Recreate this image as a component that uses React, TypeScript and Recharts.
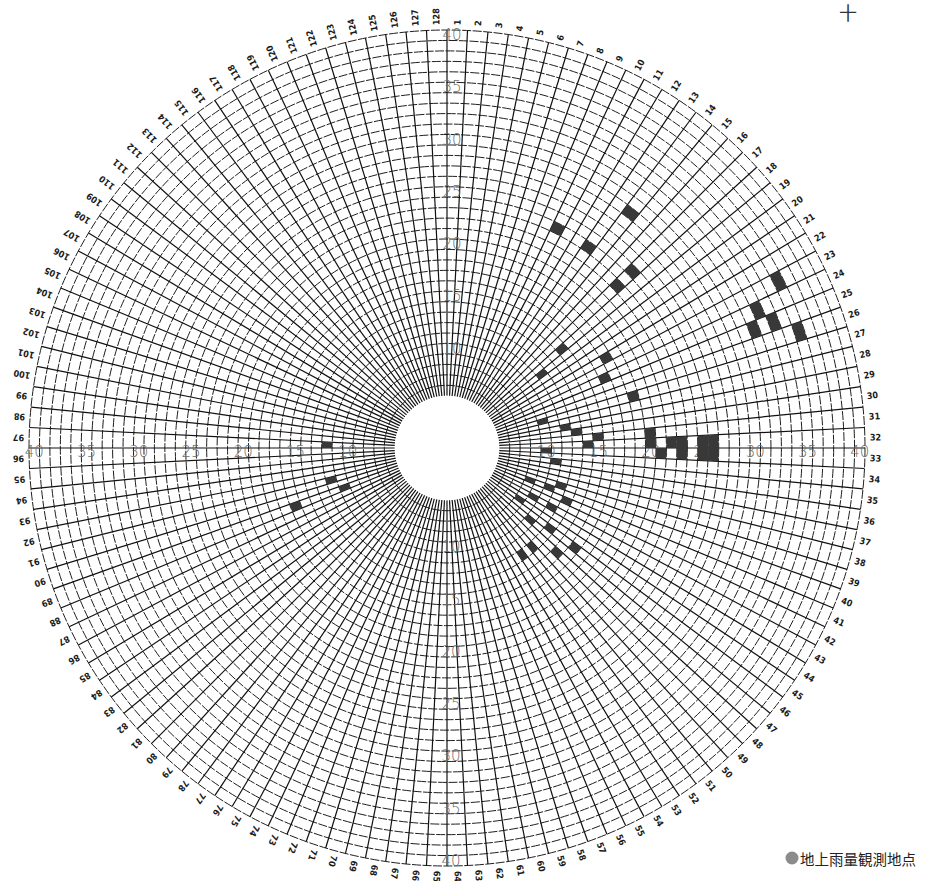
import { PieChart, Pie, Cell, PolarGrid, Customized } from 'recharts';

// Radar scope geometry (pixels)
const CENTER_X = 447;
const CENTER_Y = 448;
const OUTER_R = 418;
const MAX_KM = 40;
const BLIND_KM = 5;

// km -> pixel radius
const km = (d: number) => (d / MAX_KM) * OUTER_R;

// 128 azimuth sectors, numbered clockwise from north
const sectorLabels = Array.from({ length: 128 }, (_, i) => String(i + 1));
const SECTOR_DEG = 360 / sectorLabels.length;

// range rings every 1 km, labelled every 5 km
const ringKm = Array.from({ length: MAX_KM - BLIND_KM }, (_, i) => BLIND_KM + 1 + i);
const rangeTicks = [10, 15, 20, 25, 30, 35, 40];

// echo cells: inner edge of the range bin (km) and sector number
const echoRangeKm = [
  23, 28, 23, 24, 22, 14, 17, 11, 16, 18,
  35, 32, 31, 33, 35,
  19, 19, 20, 21, 22, 22, 24, 25, 24, 25,
  9, 11, 12, 13, 14, 9, 10, 8, 10, 11, 8, 9, 11, 12, 10, 12, 12, 14, 15, 12,
  11, 11, 10, 15,
];
const echoSector = [
  10, 14, 13, 17, 17, 18, 22, 19, 24, 27,
  23, 24, 25, 25, 26,
  31, 32, 33, 32, 32, 33, 32, 32, 33, 33,
  27, 29, 30, 32, 31, 33, 35, 40, 40, 39, 45, 43, 43, 41, 47, 46, 50, 48, 46, 52,
  97, 91, 89, 89,
];

const echoSet = new Set(echoRangeKm.map((r, i) => `${r}-${echoSector[i]}`));
const echoRings = Array.from(new Set(echoRangeKm)).sort((a, b) => a - b);

const spokeAngles = sectorLabels.map((_, i) => 90 - i * SECTOR_DEG);

function SectorLabel(props: any) {
  const { cx, cy, midAngle, outerRadius, index } = props;
  const r = outerRadius + 5;
  const rad = (midAngle * Math.PI) / 180;
  const x = cx + r * Math.cos(rad);
  const y = cy - r * Math.sin(rad);
  return (
    <text
      x={x}
      y={y}
      transform={`rotate(${-midAngle} ${x} ${y})`}
      textAnchor="start"
      dominantBaseline="central"
      fontFamily="DejaVu Sans Condensed, DejaVu Sans, sans-serif"
      fontWeight="bold"
      fontSize={9}
      fill="#1a1a1a"
    >
      {sectorLabels[index]}
    </text>
  );
}

function Annotations() {
  const style = {
    fontFamily: 'DejaVu Sans, sans-serif',
    fontSize: 15,
    fontWeight: 300,
    fill: '#6e6e6e',
  } as const;
  const labels: any[] = [];
  rangeTicks.forEach((k) => {
    const r = km(k - 0.5);
    const t = String(k);
    labels.push(
      <text key={`n${k}`} x={CENTER_X + 5} y={CENTER_Y - r} textAnchor="middle" dominantBaseline="central" {...style}>{t}</text>,
      <text key={`s${k}`} x={CENTER_X + 4} y={CENTER_Y + r} textAnchor="middle" dominantBaseline="central" {...style}>{t}</text>,
      <text key={`w${k}`} x={CENTER_X - r} y={CENTER_Y + 4} textAnchor="middle" dominantBaseline="central" {...style}>{t}</text>,
      <text key={`e${k}`} x={CENTER_X + r} y={CENTER_Y + 4} textAnchor="middle" dominantBaseline="central" {...style}>{t}</text>
    );
  });
  return (
    <g>
      {labels}
      <text x={CENTER_X} y={CENTER_Y - 11} textAnchor="middle" dominantBaseline="central"
        fontFamily="Noto Sans CJK JP" fontSize={10} fill="#222">三ッ峠</text>
      <text x={CENTER_X} y={CENTER_Y + 2} textAnchor="middle" dominantBaseline="central"
        fontFamily="DejaVu Sans" fontSize={11} fill="#222">+</text>
      <text x={848} y={12} textAnchor="middle" dominantBaseline="central"
        fontFamily="Noto Sans CJK JP" fontSize={18} fill="#333">十</text>
      <circle cx={792} cy={858} r={6.5} fill="#8c8c8c" />
      <text x={800} y={858} textAnchor="start" dominantBaseline="central"
        fontFamily="Noto Sans CJK JP" fontSize={14.5} fill="#222">地上雨量観測地点</text>
    </g>
  );
}

export default function App() {
  return (
    <div style={{ position: 'absolute', left: 0, top: 0, width: 928, height: 881, background: '#fff' }}>
      <PieChart
        width={928}
        height={881}
        margin={{ top: 0, right: 0, bottom: 0, left: 0 }}
        cx={CENTER_X}
        cy={CENTER_Y}
        innerRadius={km(BLIND_KM)}
        outerRadius={OUTER_R}
      >
        {/* range rings */}
        <PolarGrid
          cx={CENTER_X}
          cy={CENTER_Y}
          innerRadius={km(BLIND_KM)}
          outerRadius={OUTER_R}
          gridType="circle"
          radialLines={false}
          polarAngles={[]}
          polarRadius={ringKm.map(km)}
          stroke="#1e1e1e"
          strokeWidth={1}
          strokeDasharray="9 1.5"
        />
        {/* azimuth spokes */}
        <PolarGrid
          cx={CENTER_X}
          cy={CENTER_Y}
          innerRadius={km(BLIND_KM)}
          outerRadius={OUTER_R}
          gridType="circle"
          polarAngles={spokeAngles}
          polarRadius={[]}
          stroke="#111"
          strokeWidth={1.2}
        />
        {echoRings.map((k) => (
          <Pie
            key={`ring-${k}`}
            data={sectorLabels.map((name, i) => ({ name, value: 1, filled: echoSet.has(`${k}-${i + 1}`) }))}
            dataKey="value"
            cx={CENTER_X}
            cy={CENTER_Y}
            innerRadius={km(k)}
            outerRadius={km(k + 1)}
            startAngle={90}
            endAngle={-270}
            stroke="none"
            isAnimationActive={false}
          >
            {sectorLabels.map((name, i) => (
              <Cell key={name} fill={echoSet.has(`${k}-${i + 1}`) ? '#383838' : 'none'} />
            ))}
          </Pie>
        ))}
        {/* blind zone around the radar site */}
        <Pie
          data={[{ name: 'site', value: 1 }]}
          dataKey="value"
          cx={CENTER_X}
          cy={CENTER_Y}
          innerRadius={0}
          outerRadius={km(BLIND_KM)}
          fill="#fff"
          stroke="none"
          isAnimationActive={false}
        />
        {/* sector numbers */}
        <Pie
          data={sectorLabels.map((name) => ({ name, value: 1 }))}
          dataKey="value"
          cx={CENTER_X}
          cy={CENTER_Y}
          innerRadius={OUTER_R}
          outerRadius={OUTER_R}
          startAngle={90}
          endAngle={-270}
          fill="none"
          stroke="none"
          label={SectorLabel}
          labelLine={false}
          isAnimationActive={false}
        />
        <Customized component={<Annotations />} />
      </PieChart>
    </div>
  );
}
